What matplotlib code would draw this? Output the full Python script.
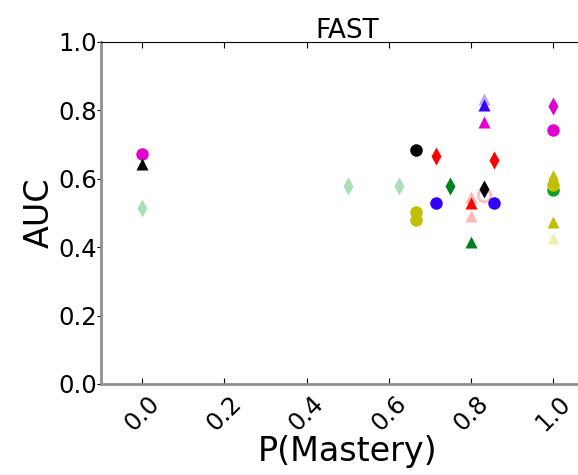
import matplotlib
matplotlib.use("Agg")
import matplotlib.pyplot as plt

# P(Mastery) vs AUC, one entry per colour/marker group
mag_o_x = [0.0, 1.0]
mag_o_y = [0.672, 0.743]
mag_d_x = [1.0]
mag_d_y = [0.814]
mag_t_x = [0.833]
mag_t_y = [0.766]
blk_t_x = [0.0]
blk_t_y = [0.642]
blk_o_x = [0.667]
blk_o_y = [0.684]
blk_d_x = [0.833]
blk_d_y = [0.571]
ltg_d_x = [0.0, 0.5, 0.625]
ltg_d_y = [0.515, 0.579, 0.580]
oli_o_x = [0.667, 0.667, 1.0]
oli_o_y = [0.502, 0.480, 0.582]
oli_d_x = [1.0]
oli_d_y = [0.600]
oli_t_x = [1.0]
oli_t_y = [0.475]
pyl_t_x = [1.0]
pyl_t_y = [0.426]
grn_o_x = [1.0]
grn_o_y = [0.566]
grn_d_x = [0.75]
grn_d_y = [0.580]
grn_t_x = [0.8]
grn_t_y = [0.415]
red_d_x = [0.714, 0.857]
red_d_y = [0.667, 0.655]
red_t_x = [0.8]
red_t_y = [0.530]
red_t2_y = [0.548]
pnk_t_x = [0.8]
pnk_t_y = [0.490]
pnk_o_x = [0.833]
pnk_o_y = [0.553]
blu_o_x = [0.714, 0.857]
blu_o_y = [0.530, 0.529]
blu_t_x = [0.833]
blu_t_y = [0.816]
blu_t2_y = [0.832]

fig = plt.figure(figsize=(5.78, 4.75), dpi=100)
ax = fig.add_axes([0.175, 0.1916, 0.853, 0.72])

ms = 9
ax.plot(blu_t_x, blu_t2_y, "^", color="#3300ff", alpha=0.35, ms=ms, mec="none")
ax.plot(red_t_x, red_t2_y, "^", color="red", alpha=0.3, ms=ms, mec="none")
ax.plot(pnk_o_x, pnk_o_y, "o", color="#ff9090", alpha=0.6, ms=ms, mfc="none", mew=2)
ax.plot(ltg_d_x, ltg_d_y, "d", color="#a8e0b8", ms=ms, mec="none")
ax.plot(grn_o_x, grn_o_y, "o", color="#10a030", ms=ms, mec="none")
ax.plot(oli_o_x, oli_o_y, "o", color="#c0c000", ms=ms, mec="none")
ax.plot(oli_d_x, oli_d_y, "d", color="#c0c000", ms=ms, mec="none")
ax.plot(oli_t_x, oli_t_y, "^", color="#c0c000", ms=ms, mec="none")
ax.plot(pyl_t_x, pyl_t_y, "^", color="#eef0b0", ms=ms, mec="none")
ax.plot(grn_d_x, grn_d_y, "d", color="#008020", ms=ms, mec="none")
ax.plot(grn_t_x, grn_t_y, "^", color="#008020", ms=ms, mec="none")
ax.plot(red_d_x, red_d_y, "d", color="red", ms=ms, mec="none")
ax.plot(red_t_x, red_t_y, "^", color="red", ms=ms, mec="none")
ax.plot(pnk_t_x, pnk_t_y, "^", color="#ffb8b8", ms=ms, mec="none")
ax.plot(blu_o_x, blu_o_y, "o", color="#3300ff", ms=ms, mec="none")
ax.plot(blu_t_x, blu_t_y, "^", color="#3300ff", ms=ms, mec="none")
ax.plot(mag_o_x, mag_o_y, "o", color="#e000d0", ms=ms, mec="none")
ax.plot(mag_d_x, mag_d_y, "d", color="#e000d0", ms=ms, mec="none")
ax.plot(mag_t_x, mag_t_y, "^", color="#e000d0", ms=ms, mec="none")
ax.plot(blk_t_x, blk_t_y, "^", color="black", ms=ms, mec="none")
ax.plot(blk_o_x, blk_o_y, "o", color="black", ms=ms, mec="none")
ax.plot(blk_d_x, blk_d_y, "d", color="black", ms=ms, mec="none")

ax.set_xlim(-0.1, 1.1)
ax.set_ylim(0.0, 1.0)
ax.set_xticks([0.0, 0.2, 0.4, 0.6, 0.8, 1.0])
ax.set_yticks([0.0, 0.2, 0.4, 0.6, 0.8, 1.0])
ax.set_xticklabels(["0.0", "0.2", "0.4", "0.6", "0.8", "1.0"], rotation=45)
ax.tick_params(axis="x", direction="in", top=True, length=4, labelsize=17.5, pad=5)
ax.tick_params(axis="y", direction="out", length=3, labelsize=17.5, pad=0)
for s in ["left", "bottom"]:
    ax.spines[s].set_color("#909090")
    ax.spines[s].set_linewidth(2)

ax.set_title("FAST", fontsize=19, pad=3)
ax.set_xlabel("P(Mastery)", fontsize=24, labelpad=0)
ax.set_ylabel("AUC", fontsize=24, labelpad=2)

fig.savefig("out.png", dpi=100)
